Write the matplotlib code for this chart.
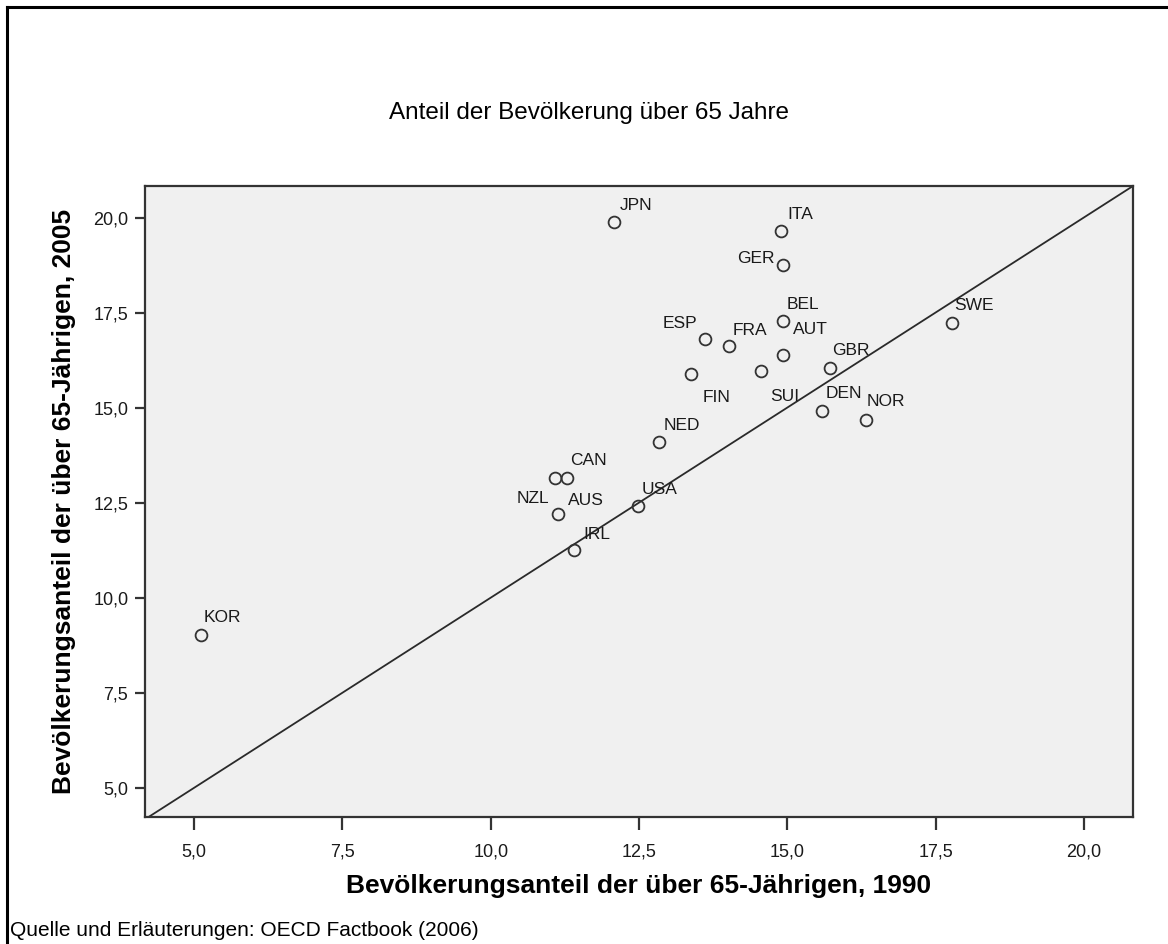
import matplotlib
matplotlib.use("Agg")
import matplotlib.pyplot as plt
from matplotlib.lines import Line2D
from matplotlib.ticker import FixedLocator, FuncFormatter

# ---- data ----
countries = ["JPN", "ITA", "GER", "BEL", "ESP", "FRA", "AUT", "FIN", "SUI", "GBR",
             "DEN", "NOR", "SWE", "NED", "AUS", "CAN", "NZL", "USA", "IRL", "KOR"]
share_1990 = [12.08, 14.89, 14.92, 14.92, 13.61, 14.02, 14.93, 13.38, 14.56, 15.72,
              15.58, 16.32, 17.78, 12.84, 11.08, 11.28, 11.13, 12.49, 11.41, 5.12]
share_2005 = [19.88, 19.65, 18.76, 17.29, 16.81, 16.61, 16.39, 15.89, 15.95, 16.04,
              14.92, 14.68, 17.22, 14.10, 13.14, 13.14, 12.21, 12.42, 11.25, 9.02]
tick_values = [5.0, 7.5, 10.0, 12.5, 15.0, 17.5, 20.0]

title = "Anteil der Bevölkerung über 65 Jahre"
xlabel = "Bevölkerungsanteil der über 65-Jährigen, 1990"
ylabel = "Bevölkerungsanteil der über 65-Jährigen, 2005"
source = "Quelle und Erläuterungen: OECD Factbook (2006)"

# label placement (pixel offsets from point, alignment)
label_pos = {
    "JPN": (6, 12, "left"), "ITA": (7, 12, "left"), "GER": (-8, 2, "right"),
    "BEL": (4, 12, "left"), "ESP": (-8, 11, "right"), "FRA": (3, 11, "left"),
    "AUT": (10, 21, "left"), "FIN": (11, -28, "left"), "SUI": (9, -30, "left"),
    "GBR": (2, 13, "left"), "DEN": (4, 13, "left"), "NOR": (1, 14, "left"),
    "SWE": (2, 13, "left"), "NED": (4, 12, "left"), "AUS": (13, -27, "left"),
    "CAN": (3, 13, "left"), "NZL": (-9, 11, "right"), "USA": (3, 12, "left"),
    "IRL": (9, 11, "left"), "KOR": (2, 13, "left"),
}

W, H = 1168, 944
fig = plt.figure(figsize=(W / 100, H / 100), dpi=100)
fig.patch.set_facecolor("white")

# figure frame (top + left)
fig.add_artist(Line2D([7 / W, 1.0], [1 - 7 / H, 1 - 7 / H], transform=fig.transFigure,
                      color="black", lw=2.2))
fig.add_artist(Line2D([7 / W, 7 / W], [0.0, 1 - 7 / H], transform=fig.transFigure,
                      color="black", lw=2.2))

ax_l, ax_r, ax_t, ax_b = 145, 1133, 186, 817
ax = fig.add_axes([ax_l / W, 1 - ax_b / H, (ax_r - ax_l) / W, (ax_b - ax_t) / H])
ax.set_facecolor("#F0F0F0")
xmin, xmax = 4.17, 20.83
ymin, ymax = 4.23, 20.83
ax.set_xlim(xmin, xmax)
ax.set_ylim(ymin, ymax)

# diagonal reference line y = x
lo, hi = min(xmin, ymin), max(xmax, ymax)
ax.plot([lo, hi], [lo, hi], color="#2a2a2a", lw=1.3, zorder=2)

ax.plot(share_1990, share_2005, linestyle="none", marker="o", ms=8.5,
        mfc="none", mec="#333333", mew=1.3, zorder=3)

for c, x, y in zip(countries, share_1990, share_2005):
    dx, dy, ha = label_pos[c]
    ax.annotate(c, (x, y), xytext=(dx, dy), textcoords="offset pixels",
                ha=ha, va="baseline", fontsize=12.5, family="Liberation Sans",
                color="#1a1a1a", zorder=4)

for s in ax.spines.values():
    s.set_color("#333333")
    s.set_linewidth(1.6)

ax.xaxis.set_major_locator(FixedLocator(tick_values))
ax.yaxis.set_major_locator(FixedLocator(tick_values))
fmt = FuncFormatter(lambda v, p: f"{v:.1f}".replace(".", ","))
ax.xaxis.set_major_formatter(fmt)
ax.yaxis.set_major_formatter(fmt)
ax.tick_params(axis="x", length=9, width=1.6, color="#333333", pad=10,
               labelsize=13, labelcolor="#1a1a1a")
ax.tick_params(axis="y", length=7, width=1.6, color="#333333", pad=5,
               labelsize=13, labelcolor="#1a1a1a")
for lab in ax.get_xticklabels() + ax.get_yticklabels():
    lab.set_family("Liberation Sans")

fig.text(589 / W, 1 - 113 / H, title, ha="center", va="center",
         fontsize=17.5, family="Liberation Sans", color="black")
fig.text(639 / W, 1 - 886 / H, xlabel, ha="center", va="center",
         fontsize=19, fontweight="bold", family="Liberation Sans", color="black")
fig.text(64 / W, 1 - 501 / H, ylabel, ha="center", va="center", rotation=90,
         fontsize=19, fontweight="bold", family="Liberation Sans", color="black")
fig.text(10 / W, 1 - 930 / H, source, ha="left", va="center",
         fontsize=15, family="Liberation Sans", color="black")

fig.savefig("out.png", dpi=100, facecolor=fig.get_facecolor())
